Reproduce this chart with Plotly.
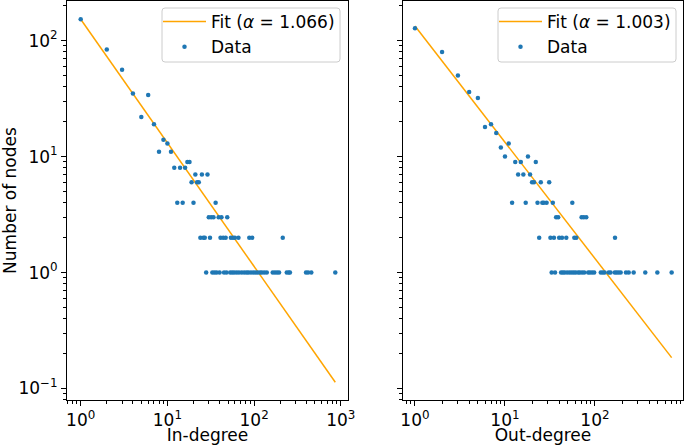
import plotly.graph_objects as go

# ---- data ----
in_deg_x = [1, 2, 3, 4, 5, 6, 7, 8, 9, 10, 11,
            12, 14, 16, 17, 18, 21, 25, 29, 19, 22, 23,
            13, 15, 20, 36,
            30, 32, 34, 39, 42, 49,
            24, 26, 27, 31, 41, 44, 47, 54, 57, 60, 66, 88, 95, 214,
            28, 33, 35, 37, 40, 45, 48, 53, 56, 59, 63, 67, 72, 77, 82, 86, 92, 98,
            104, 110, 117, 123, 131, 140, 164, 174, 184, 194, 238, 251, 259, 397, 419, 457, 864]
in_deg_y = [153, 84, 56, 35, 22, 34, 19, 11, 14, 13, 11,
            8, 8, 8, 9, 9, 7, 7, 7, 6, 6, 6,
            4, 4, 4, 4,
            3, 3, 3, 3, 3, 3,
            2, 2, 2, 2, 2, 2, 2, 2, 2, 2, 2, 2, 2, 2,
            1, 1, 1, 1, 1, 1, 1, 1, 1, 1, 1, 1, 1, 1, 1, 1, 1, 1,
            1, 1, 1, 1, 1, 1, 1, 1, 1, 1, 1, 1, 1, 1, 1, 1, 1]

out_deg_x = [1, 2, 3, 4, 5, 6, 7, 8, 9, 10, 11,
             13, 15, 22, 18, 14, 16, 19, 20, 21, 25, 31,
             12, 17, 23, 26, 27, 29, 34, 56,
             37, 39, 71, 75, 80,
             24, 32, 35, 40, 43, 48, 59, 62, 167,
             33, 36, 42, 44, 46, 49, 52, 55, 58, 61, 65, 68, 72, 76, 84, 88, 93, 98,
             116, 122, 128, 142, 149, 166, 174, 183, 193, 221, 237, 269, 362, 493, 711]
out_deg_y = [128, 80, 50, 36, 32, 18, 19, 16, 12, 10, 13,
             9, 9, 9, 10, 7, 7, 7, 6, 6, 6, 6,
             4, 4, 4, 4, 4, 4, 4, 4,
             3, 3, 3, 3, 3,
             2, 2, 2, 2, 2, 2, 2, 2, 2,
             1, 1, 1, 1, 1, 1, 1, 1, 1, 1, 1, 1, 1, 1, 1, 1, 1, 1,
             1, 1, 1, 1, 1, 1, 1, 1, 1, 1, 1, 1, 1, 1, 1]

in_alpha, in_c = 1.066, 153.0
out_alpha, out_c = 1.003, 134.0

major_vals = [0.1, 1, 10, 100, 1000]
major_text = ["10<sup>−1</sup>", "10<sup>0</sup>", "10<sup>1</sup>", "10<sup>2</sup>", "10<sup>3</sup>"]
minor_vals = [m * 10 ** e for e in range(-2, 4) for m in range(2, 10)]

W, H = 685, 445
FONT = "DejaVu Sans"
FS = 17
BLUE = "#1f77b4"
ORANGE = "#FFA500"


def fit_line(xs, alpha, c):
    lo, hi = 1, max(xs)
    return [lo, hi], [c * lo ** (-alpha), c * hi ** (-alpha)]


def rounded_box(x0, y0, x1, y1, r=3):
    """Rounded rectangle path in paper coords from pixel corners (top-left origin)."""
    px = lambda v: v / W
    py = lambda v: 1 - v / H
    return (f"M{px(x0 + r)},{py(y0)} L{px(x1 - r)},{py(y0)} Q{px(x1)},{py(y0)} {px(x1)},{py(y0 + r)} "
            f"L{px(x1)},{py(y1 - r)} Q{px(x1)},{py(y1)} {px(x1 - r)},{py(y1)} "
            f"L{px(x0 + r)},{py(y1)} Q{px(x0)},{py(y1)} {px(x0)},{py(y1 - r)} "
            f"L{px(x0)},{py(y0 + r)} Q{px(x0)},{py(y0)} {px(x0 + r)},{py(y0)} Z")


fig = go.Figure()

fx, fy = fit_line(in_deg_x, in_alpha, in_c)
fig.add_trace(go.Scatter(x=fx, y=fy, mode="lines", line=dict(color=ORANGE, width=1.5),
                         name=f"Fit (<i>α</i> = {in_alpha:.3f})", xaxis="x", yaxis="y", legend="legend"))
fig.add_trace(go.Scatter(x=in_deg_x, y=in_deg_y, mode="markers", marker=dict(color=BLUE, size=4.5),
                         name="Data", xaxis="x", yaxis="y", legend="legend"))

fx, fy = fit_line(out_deg_x, out_alpha, out_c)
fig.add_trace(go.Scatter(x=fx, y=fy, mode="lines", line=dict(color=ORANGE, width=1.5),
                         name=f"Fit (<i>α</i> = {out_alpha:.3f})", xaxis="x2", yaxis="y2", legend="legend2"))
fig.add_trace(go.Scatter(x=out_deg_x, y=out_deg_y, mode="markers", marker=dict(color=BLUE, size=4.5),
                         name="Data", xaxis="x2", yaxis="y2", legend="legend2"))

ax_common = dict(type="log", showgrid=False, zeroline=False, showline=True, mirror=True,
                 linecolor="black", linewidth=1, ticks="outside", ticklen=5, tickwidth=1,
                 tickcolor="black", tickvals=major_vals, ticktext=major_text,
                 tickfont=dict(family=FONT, size=FS, color="black"),
                 minor=dict(tickvals=minor_vals, ticks="outside", ticklen=3, tickwidth=0.8,
                            tickcolor="black", showgrid=False),
                 automargin=False)

y_dom = [(H - 400) / H, (H - 1) / H]

legend_common = dict(yanchor="top", xanchor="right", xref="paper", yref="paper",
                     bgcolor="rgba(0,0,0,0)", borderwidth=0,
                     font=dict(family=FONT, size=FS), itemwidth=43, tracegroupgap=0)

box_style = dict(type="path", xref="paper", yref="paper", layer="above",
                 line=dict(color="#cccccc", width=1), fillcolor="rgba(255,255,255,0.8)")

fig.update_layout(
    width=W, height=H,
    margin=dict(l=0, r=0, t=0, b=0),
    paper_bgcolor="white", plot_bgcolor="white",
    font=dict(family=FONT, size=FS, color="black"),
    xaxis=dict(ax_common, domain=[67 / W, 348 / W], range=[-0.158, 3.083], anchor="y",
               title=dict(text="In-degree", standoff=2, font=dict(family=FONT, size=FS))),
    xaxis2=dict(ax_common, domain=[403 / W, 683 / W], range=[-0.133, 2.978], anchor="y2",
                title=dict(text="Out-degree", standoff=2, font=dict(family=FONT, size=FS))),
    yaxis=dict(ax_common, domain=y_dom, range=[-1.099, 2.342], anchor="x",
               title=dict(text="Number of nodes", standoff=2, font=dict(family=FONT, size=FS))),
    yaxis2=dict(ax_common, domain=y_dom, range=[-1.099, 2.342], anchor="x2", matches="y",
                showticklabels=False),
    legend=dict(legend_common, x=340 / W, y=1 - 4 / H),
    legend2=dict(legend_common, x=676 / W, y=1 - 4 / H),
    shapes=[dict(box_style, path=rounded_box(162, 8, 340, 62)),
            dict(box_style, path=rounded_box(498, 8, 676, 62))],
    showlegend=True,
)

fig.write_html("out.html", config={"displayModeBar": False},
               post_script="document.body.style.margin='0';")
